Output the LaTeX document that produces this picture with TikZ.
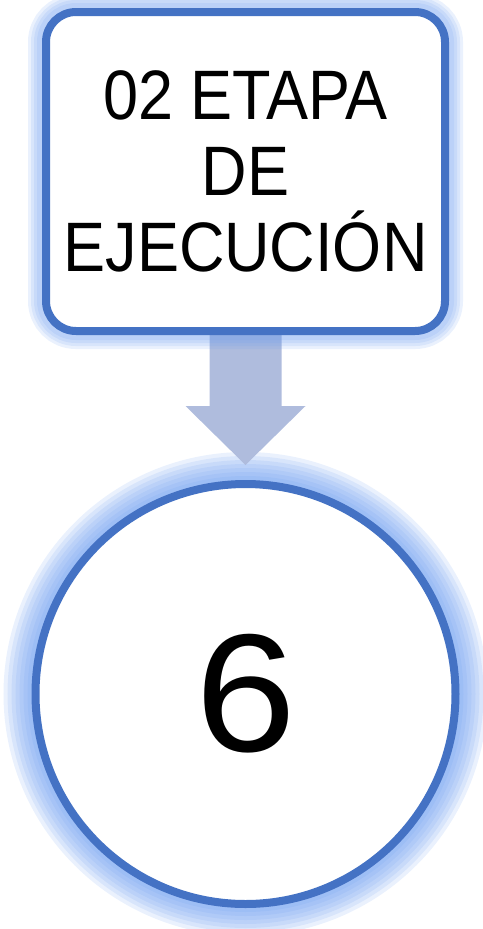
\documentclass[tikz,border=0pt]{standalone}
\usepackage{fontspec}
\setmainfont{Liberation Sans}
\newfontfamily\titlefont[FakeStretch=0.9]{Liberation Sans}
\newfontfamily\countfont[FakeStretch=1.08]{Liberation Sans}
\usetikzlibrary{positioning,backgrounds}
\definecolor{borderblue}{HTML}{4472C4}
\definecolor{arrowblue}{HTML}{AFBCDD}
\definecolor{glowblue}{HTML}{6A9BF0}

\begin{document}
\begin{tikzpicture}[x=1pt,y=-1pt,
    stagebox/.style={draw=borderblue,line width=8pt,fill=white,rounded corners=30pt,
      minimum width=399pt,minimum height=319pt,inner sep=0pt,outer sep=0pt,align=center,
      font=\titlefont\fontsize{70}{76}\selectfont},
    countcircle/.style={circle,draw=borderblue,line width=8pt,fill=white,minimum size=420pt,
      inner sep=0pt,outer sep=0pt,font=\countfont\fontsize{168}{168}\selectfont},
    glow/.style={draw=glowblue,opacity=0.14}]
  \useasboundingbox (0,0) rectangle (482,929);
  \node[stagebox] (etapa) at (245.5,171.5) {02 ETAPA\\DE\\EJECUCIÓN};
  \node[countcircle,below=153pt of etapa] (num) {6};
  \coordinate (tip) at ([yshift=19pt]num.north);
  \begin{scope}[on background layer]
    \foreach \w in {64,56,...,16}
      \draw[glow,line width=\w pt] (num.center) circle[radius=210pt];
    \fill[arrowblue] ([xshift=-36pt]etapa.south) -- ([xshift=-36pt,yshift=59pt]tip)
      -- ([xshift=-60pt,yshift=59pt]tip) -- (tip) -- ([xshift=60pt,yshift=59pt]tip)
      -- ([xshift=36pt,yshift=59pt]tip) -- ([xshift=36pt]etapa.south) -- cycle;
    \foreach \w in {36,30,...,18}
      \draw[glow,line width=\w pt,rounded corners=30pt] (etapa.north west) rectangle (etapa.south east);
  \end{scope}
\end{tikzpicture}
\end{document}
